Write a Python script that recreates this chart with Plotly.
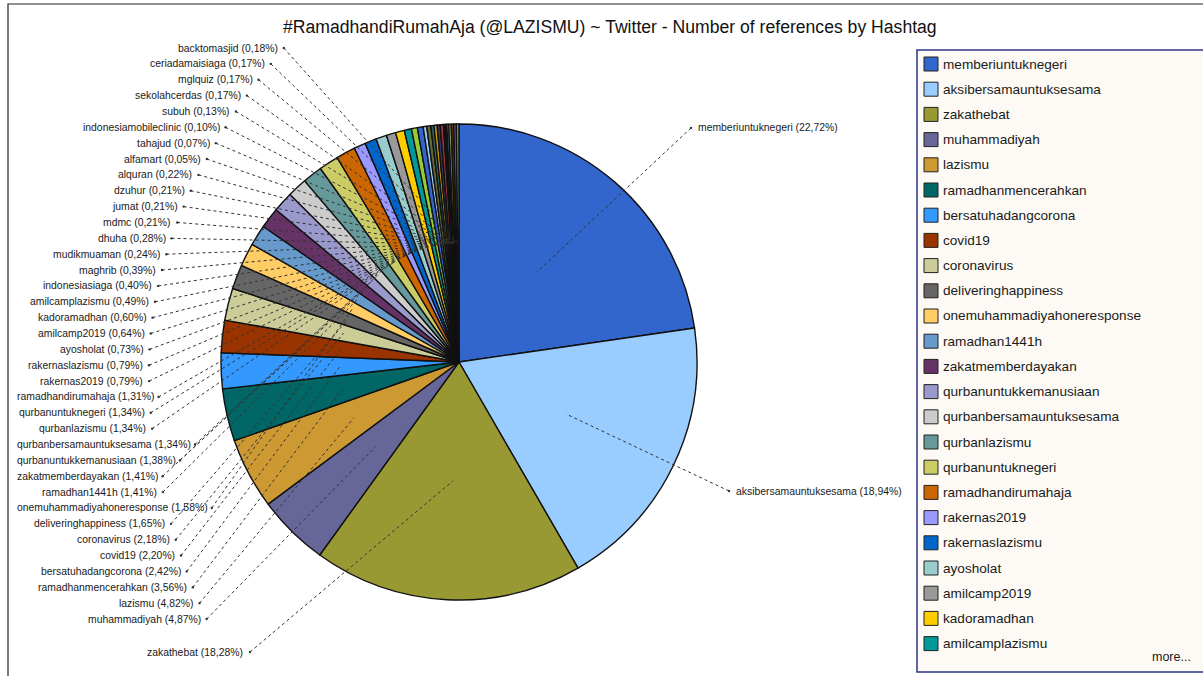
import math
import plotly.graph_objects as go

# ---------------- data ----------------
hashtags = [
    "memberiuntuknegeri", "aksibersamauntuksesama", "zakathebat", "muhammadiyah",
    "lazismu", "ramadhanmencerahkan", "bersatuhadangcorona", "covid19",
    "coronavirus", "deliveringhappiness", "onemuhammadiyahoneresponse", "ramadhan1441h",
    "zakatmemberdayakan", "qurbanuntukkemanusiaan", "qurbanbersamauntuksesama", "qurbanlazismu",
    "qurbanuntuknegeri", "ramadhandirumahaja", "rakernas2019", "rakernaslazismu",
    "ayosholat", "amilcamp2019", "kadoramadhan", "amilcamplazismu",
    "indonesiasiaga", "maghrib", "mudikmuaman", "dhuha",
    "mdmc", "jumat", "dzuhur", "alquran",
    "alfamart", "tahajud", "indonesiamobileclinic", "subuh",
    "sekolahcerdas", "mglquiz", "ceriadamaisiaga", "backtomasjid",
]
share_pct = [
    22.72, 18.94, 18.28, 4.87,
    4.82, 3.56, 2.42, 2.20,
    2.18, 1.65, 1.58, 1.41,
    1.41, 1.38, 1.34, 1.34,
    1.34, 1.31, 0.79, 0.79,
    0.73, 0.64, 0.60, 0.49,
    0.40, 0.39, 0.24, 0.28,
    0.21, 0.21, 0.21, 0.22,
    0.05, 0.07, 0.10, 0.13,
    0.17, 0.17, 0.17, 0.18,
]
slice_colors = [
    "#3366CC", "#99CCFF", "#999933", "#666699",
    "#CC9933", "#006666", "#3399FF", "#993300",
    "#CCCC99", "#666666", "#FFCC66", "#6699CC",
    "#663366", "#9999CC", "#CCCCCC", "#669999",
    "#CCCC66", "#CC6600", "#9999FF", "#0066CC",
    "#99CCCC", "#999999", "#FFCC00", "#009999",
    "#99CC33", "#3366CC", "#99CCFF", "#666633",
    "#336666", "#CC9900", "#333366", "#993333",
    "#339999", "#666666", "#CC6633", "#3399CC",
    "#999966", "#663300", "#6666CC", "#669966",
]
title_text = "#RamadhandiRumahAja (@LAZISMU) ~ Twitter - Number of references by Hashtag"
legend_count = 24

# ---------------- layout constants ----------------
W, H = 1203, 676
CX, CY, R = 459, 362, 238
FONT = "Liberation Sans, Arial, sans-serif"
LBL_SIZE = 10.4


def px(x):
    return x / W


def py(y):
    return 1 - y / H


AW = {c: 556 for c in "abdeghnopqu0123456789"}
AW.update({"c": 500, "k": 500, "s": 500, "v": 500, "x": 500, "y": 500, "z": 500,
           "f": 278, "t": 278, "i": 222, "j": 222, "l": 222, "m": 833, "r": 333, "w": 722,
           " ": 278, "(": 333, ")": 333, ",": 278, ".": 278, "%": 889})


def text_w(s, size):
    return sum(AW.get(ch, 556) for ch in s) * size / 1000.0


def label_of(i):
    return f"{hashtags[i]} ({share_pct[i]:.2f}%)".replace(".", ",")


total = sum(share_pct)
mid_angle = []
acc = 0.0
for v in share_pct:
    mid_angle.append((acc + v / 2) / total * 2 * math.pi)
    acc += v


def inner_pt(i):
    a = mid_angle[i]
    r = 0.5 * R
    return CX + r * math.sin(a), CY - r * math.cos(a)


fig = go.Figure()
fig.add_trace(go.Pie(
    labels=hashtags, values=share_pct, sort=False, direction="clockwise", rotation=0,
    marker=dict(colors=slice_colors, line=dict(color="#111111", width=1.4)),
    textinfo="none", showlegend=False,
    domain=dict(x=[px(CX - R), px(CX + R)], y=[py(CY + R), py(CY - R)]),
    hovertemplate="%{label}: %{value}%<extra></extra>",
))

shapes = []
annotations = []

# frame
shapes.append(dict(type="rect", xref="paper", yref="paper", x0=px(8), x1=px(W + 10),
                   y0=py(H + 10), y1=py(4), line=dict(color="#222222", width=1.2),
                   fillcolor="rgba(0,0,0,0)", layer="below"))

annotations.append(dict(text=title_text, x=px(610), y=py(27), xref="paper", yref="paper",
                        showarrow=False, xanchor="center", yanchor="middle",
                        font=dict(family=FONT, size=17.6, color="#111111")))


def add_leader(i, dot_x, dot_y):
    ix, iy = inner_pt(i)
    shapes.append(dict(type="line", xref="paper", yref="paper", x0=px(dot_x), y0=py(dot_y),
                       x1=px(ix), y1=py(iy), line=dict(color="#333333", width=1, dash="dot"),
                       layer="above"))
    shapes.append(dict(type="circle", xref="paper", yref="paper",
                       x0=px(dot_x - 1.2), x1=px(dot_x + 1.2), y0=py(dot_y + 1.2), y1=py(dot_y - 1.2),
                       fillcolor="#333333", line=dict(width=0), layer="above"))


# right-side / bottom labels for the three large slices
outer_pos = {0: (691, 128, "left"), 1: (729, 491, "left"), 2: (250, 652, "right")}
for i, (dx, dy, side) in outer_pos.items():
    add_leader(i, dx, dy)
    annotations.append(dict(text=label_of(i), xref="paper", yref="paper",
                            x=px(dx + 5) if side == "left" else px(dx - 5), y=py(dy),
                            xanchor=side, yanchor="middle", showarrow=False,
                            font=dict(family=FONT, size=LBL_SIZE, color="#1A1A1A")))

# left column labels
top_y, step = 48, (619 - 48) / 36
for i in range(3, len(hashtags)):
    row = len(hashtags) - 1 - i
    y = top_y + row * step
    k = 0.0013 if y < 370 else 0.00093
    dot_x = 149 + k * (y - 370) ** 2
    txt = label_of(i)
    w = text_w(txt, LBL_SIZE)
    if dot_x - 5 - w < 16:
        annotations.append(dict(text=txt, xref="paper", yref="paper", x=px(15), y=py(y),
                                xanchor="left", yanchor="middle", showarrow=False,
                                font=dict(family=FONT, size=LBL_SIZE, color="#1A1A1A")))
        dot_x = 16 + w + 5
    else:
        annotations.append(dict(text=txt, xref="paper", yref="paper", x=px(dot_x - 4), y=py(y),
                                xanchor="right", yanchor="middle", showarrow=False,
                                font=dict(family=FONT, size=LBL_SIZE, color="#1A1A1A")))
    add_leader(i, dot_x, y)

# custom legend box (first entries + "more...")
shapes.append(dict(type="rect", xref="paper", yref="paper", x0=px(917), x1=px(W + 10),
                   y0=py(672), y1=py(50), fillcolor="#FDFAF5",
                   line=dict(color="#2B3585", width=1.5), layer="below"))
row_h = 25.2
for j in range(legend_count):
    yy = 64 + j * row_h
    shapes.append(dict(type="rect", xref="paper", yref="paper", x0=px(924), x1=px(938),
                       y0=py(yy + 7), y1=py(yy - 7), fillcolor=slice_colors[j],
                       line=dict(color="#222222", width=1), layer="above"))
    annotations.append(dict(text=hashtags[j], xref="paper", yref="paper", x=px(941), y=py(yy),
                            xanchor="left", yanchor="middle", showarrow=False,
                            font=dict(family=FONT, size=13.6, color="#1A1A1A")))
annotations.append(dict(text="more...", xref="paper", yref="paper", x=px(1193), y=py(657),
                        xanchor="right", yanchor="middle", showarrow=False,
                        font=dict(family=FONT, size=12.5, color="#1A1A1A")))

fig.update_layout(width=W, height=H, margin=dict(l=0, r=0, t=0, b=0),
                  paper_bgcolor="white", plot_bgcolor="white",
                  shapes=shapes, annotations=annotations, showlegend=False)
fig.write_html("out.html")
